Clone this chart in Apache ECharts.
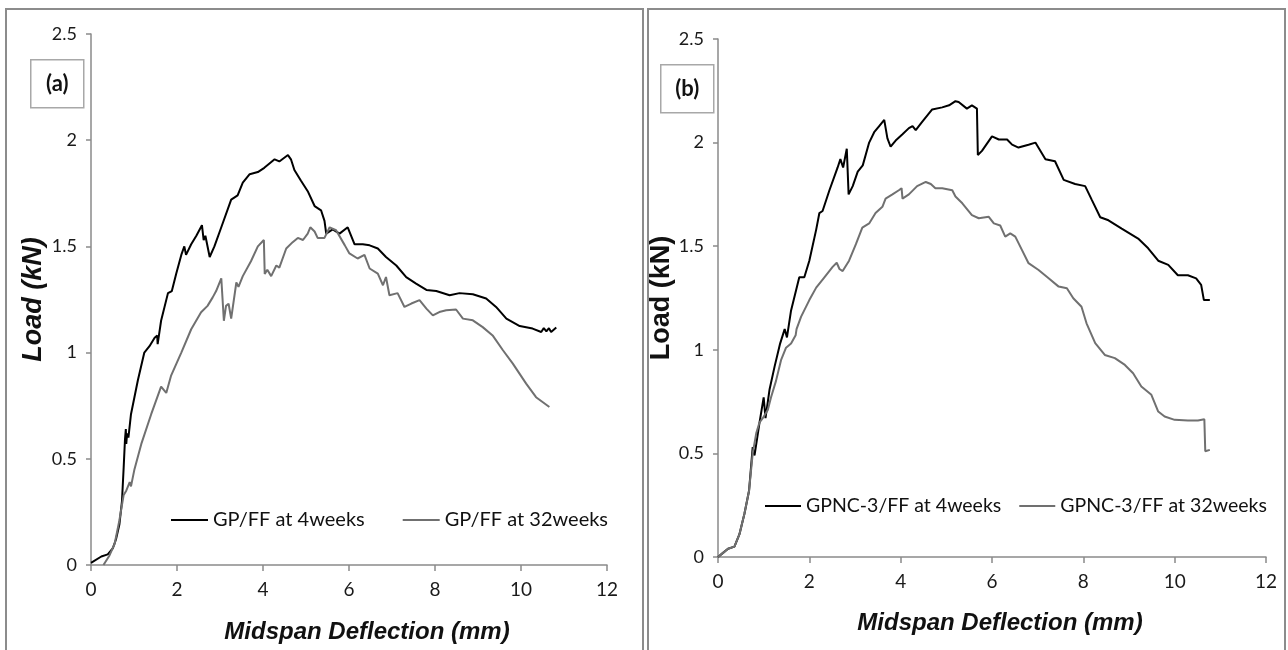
<!DOCTYPE html>
<html>
<head>
<meta charset="utf-8">
<script src="https://cdn.jsdelivr.net/npm/echarts@6/dist/echarts.min.js"></script>
<style>
html,body{margin:0;padding:0;background:#fff;}
#chart{width:1288px;height:650px;}
</style>
</head>
<body>
<div id="chart"></div>
<script>
// ---- Data (x = midspan deflection mm, y = load kN) ----
var seriesNamesA = ['GP/FF at 4weeks', 'GP/FF at 32weeks'];
var seriesNamesB = ['GPNC-3/FF at 4weeks', 'GPNC-3/FF at 32weeks'];
var xTicks = [0, 2, 4, 6, 8, 10, 12];
var yTicks = [0, 0.5, 1, 1.5, 2, 2.5];
var panelLabels = ['(a)', '(b)'];
var xTitle = 'Midspan Deflection (mm)';
var yTitle = 'Load (kN)';

var gp4 = [[0,0.01],[0.24,0.04],[0.39,0.05],[0.51,0.08],[0.58,0.12],[0.66,0.19],[0.72,0.30],[0.76,0.46],[0.79,0.59],[0.81,0.64],[0.82,0.57],[0.84,0.62],[0.87,0.60],[0.93,0.71],[1.09,0.87],[1.24,1.00],[1.36,1.03],[1.48,1.07],[1.54,1.08],[1.55,1.04],[1.63,1.15],[1.79,1.28],[1.88,1.29],[1.98,1.37],[2.10,1.46],[2.17,1.50],[2.21,1.46],[2.33,1.51],[2.45,1.55],[2.58,1.60],[2.62,1.53],[2.66,1.55],[2.76,1.45],[2.87,1.50],[3.03,1.59],[3.26,1.72],[3.41,1.74],[3.53,1.80],[3.69,1.84],[3.88,1.85],[4.03,1.87],[4.27,1.91],[4.38,1.90],[4.58,1.93],[4.65,1.91],[4.73,1.86],[4.88,1.81],[5.04,1.76],[5.20,1.69],[5.35,1.67],[5.43,1.62],[5.47,1.56],[5.62,1.58],[5.78,1.56],[5.97,1.59],[6.13,1.51],[6.32,1.51],[6.48,1.505],[6.67,1.49],[6.86,1.45],[7.10,1.41],[7.33,1.355],[7.56,1.325],[7.80,1.295],[8.03,1.29],[8.34,1.27],[8.57,1.28],[8.88,1.275],[9.19,1.255],[9.42,1.215],[9.66,1.16],[9.97,1.125],[10.27,1.113],[10.47,1.097],[10.53,1.115],[10.59,1.10],[10.65,1.115],[10.70,1.097],[10.82,1.118]];

var gp32 = [[0.29,0],[0.43,0.045],[0.55,0.10],[0.66,0.21],[0.76,0.33],[0.82,0.35],[0.90,0.39],[0.93,0.37],[1.01,0.45],[1.17,0.57],[1.40,0.71],[1.63,0.84],[1.75,0.81],[1.86,0.89],[2.10,1.00],[2.33,1.11],[2.56,1.19],[2.71,1.22],[2.83,1.26],[2.91,1.29],[3.03,1.35],[3.09,1.15],[3.14,1.22],[3.20,1.23],[3.26,1.16],[3.38,1.33],[3.43,1.31],[3.53,1.36],[3.72,1.43],[3.88,1.50],[4.02,1.53],[4.04,1.37],[4.10,1.39],[4.19,1.36],[4.31,1.41],[4.38,1.40],[4.54,1.49],[4.69,1.52],[4.81,1.54],[4.93,1.53],[5.04,1.56],[5.10,1.59],[5.20,1.57],[5.27,1.54],[5.43,1.54],[5.55,1.59],[5.70,1.576],[5.90,1.506],[6.01,1.467],[6.20,1.443],[6.36,1.46],[6.48,1.396],[6.67,1.372],[6.79,1.317],[6.86,1.356],[6.94,1.27],[7.13,1.28],[7.29,1.215],[7.45,1.231],[7.64,1.247],[7.80,1.207],[7.95,1.175],[8.10,1.191],[8.26,1.199],[8.49,1.203],[8.65,1.16],[8.88,1.152],[9.11,1.12],[9.34,1.081],[9.58,1.011],[9.81,0.948],[10.12,0.854],[10.35,0.79],[10.66,0.744]];

var gpnc4 = [[0,0],[0.11,0.02],[0.22,0.04],[0.36,0.05],[0.47,0.11],[0.58,0.21],[0.68,0.32],[0.76,0.53],[0.80,0.49],[0.91,0.65],[1.00,0.77],[1.04,0.67],[1.13,0.81],[1.24,0.92],[1.36,1.03],[1.46,1.10],[1.51,1.06],[1.60,1.19],[1.78,1.35],[1.89,1.35],[2.00,1.43],[2.15,1.58],[2.22,1.66],[2.29,1.67],[2.44,1.77],[2.62,1.88],[2.68,1.92],[2.74,1.88],[2.82,1.97],[2.86,1.75],[2.95,1.79],[3.06,1.86],[3.17,1.89],[3.31,2.00],[3.42,2.05],[3.53,2.08],[3.64,2.11],[3.71,2.02],[3.78,1.98],[3.89,2.01],[4.04,2.04],[4.18,2.07],[4.26,2.08],[4.33,2.06],[4.47,2.10],[4.69,2.16],[4.91,2.17],[5.06,2.18],[5.20,2.20],[5.27,2.196],[5.45,2.164],[5.56,2.18],[5.67,2.164],[5.69,1.94],[5.78,1.96],[6.00,2.03],[6.15,2.015],[6.33,2.015],[6.44,1.99],[6.58,1.976],[6.80,1.99],[6.95,2.00],[7.17,1.92],[7.38,1.91],[7.57,1.82],[7.82,1.80],[8.04,1.79],[8.18,1.726],[8.37,1.64],[8.55,1.625],[8.84,1.585],[9.20,1.537],[9.42,1.49],[9.64,1.43],[9.86,1.41],[10.07,1.36],[10.29,1.36],[10.47,1.345],[10.58,1.313],[10.64,1.24],[10.77,1.24]];

var gpnc32 = [[0,0],[0.11,0.02],[0.22,0.04],[0.36,0.05],[0.47,0.11],[0.58,0.21],[0.68,0.32],[0.76,0.50],[0.84,0.60],[0.91,0.65],[0.98,0.67],[1.09,0.71],[1.16,0.77],[1.27,0.85],[1.38,0.95],[1.49,1.01],[1.60,1.03],[1.70,1.07],[1.72,1.10],[1.82,1.16],[2.00,1.24],[2.15,1.30],[2.33,1.35],[2.51,1.40],[2.60,1.42],[2.66,1.39],[2.73,1.38],[2.87,1.43],[3.02,1.51],[3.16,1.59],[3.31,1.61],[3.45,1.66],[3.60,1.69],[3.67,1.73],[3.82,1.75],[3.96,1.77],[4.02,1.78],[4.04,1.73],[4.18,1.75],[4.36,1.79],[4.55,1.81],[4.66,1.80],[4.76,1.78],[4.91,1.78],[5.13,1.77],[5.20,1.74],[5.35,1.707],[5.56,1.65],[5.71,1.635],[5.93,1.642],[6.04,1.61],[6.18,1.60],[6.29,1.546],[6.40,1.562],[6.51,1.546],[6.66,1.48],[6.80,1.418],[7.02,1.385],[7.24,1.345],[7.46,1.305],[7.64,1.297],[7.78,1.249],[7.96,1.208],[8.07,1.128],[8.26,1.032],[8.47,0.975],[8.69,0.96],[8.91,0.927],[9.09,0.887],[9.27,0.823],[9.49,0.783],[9.64,0.702],[9.78,0.678],[10.00,0.662],[10.29,0.659],[10.51,0.659],[10.65,0.665],[10.67,0.51],[10.77,0.517]];

// ---- Chart ----
var AXIS_COLOR = '#8a8a8a';
var TICK_FONT = 'Lato, "Open Sans", sans-serif';
var TITLE_FONT = '"Liberation Sans", Arial, sans-serif';

function xAxisDef(gridIndex, gap, shift) {
  return {
    type: 'value', gridIndex: gridIndex, min: xTicks[0], max: xTicks[xTicks.length - 1], interval: 2,
    axisLine: { show: true, lineStyle: { color: AXIS_COLOR, width: 1.5 } },
    axisTick: { show: true, length: 6, lineStyle: { color: AXIS_COLOR, width: 1.5 } },
    splitLine: { show: false },
    axisLabel: { color: '#1a1a1a', fontFamily: TICK_FONT, fontSize: 19, margin: 15 },
    name: xTitle, nameLocation: 'middle', nameGap: gap,
    nameTextStyle: { fontFamily: TITLE_FONT, fontWeight: 'bold', fontStyle: 'italic', fontSize: 24, color: '#111', padding: [0, 0, 0, shift] }
  };
}
function yAxisDef(gridIndex, gap, italic) {
  return {
    type: 'value', gridIndex: gridIndex, min: yTicks[0], max: yTicks[yTicks.length - 1], interval: 0.5,
    axisLine: { show: true, lineStyle: { color: AXIS_COLOR, width: 1.5 } },
    axisTick: { show: true, length: 5, lineStyle: { color: AXIS_COLOR, width: 1.5 } },
    splitLine: { show: false },
    axisLabel: { color: '#1a1a1a', fontFamily: TICK_FONT, fontSize: 18, margin: 14 },
    name: yTitle, nameLocation: 'middle', nameGap: gap, nameRotate: 90,
    nameTextStyle: { fontFamily: TITLE_FONT, fontWeight: 'bold', fontStyle: italic ? 'italic' : 'normal', fontSize: 27, color: '#111' }
  };
}
function lineSeries(name, data, idx, color) {
  return {
    type: 'line', name: name, data: data, xAxisIndex: idx, yAxisIndex: idx,
    showSymbol: false, symbol: 'none', smooth: false, animation: false,
    lineStyle: { color: color, width: 2 }, itemStyle: { color: color }
  };
}
function labelBox(x, y, w, h, txt) {
  return {
    type: 'group', left: x, top: y,
    children: [
      { type: 'rect', shape: { x: 0, y: 0, width: w, height: h }, style: { fill: '#fff', stroke: '#a8a8a8', lineWidth: 1.5 } },
      { type: 'text', x: w / 2, y: h / 2, style: { text: txt, font: 'bold 22px ' + TICK_FONT, fill: '#111', align: 'center', verticalAlign: 'middle' } }
    ]
  };
}

var chart = echarts.init(document.getElementById('chart'), null, { renderer: 'canvas' });
chart.setOption({
  backgroundColor: '#fff',
  animation: false,
  grid: [
    { left: 91, top: 34, width: 516, height: 531 },
    { left: 718, top: 39, width: 548, height: 518 }
  ],
  xAxis: [xAxisDef(0, 55, 36), xAxisDef(1, 54, 16)],
  yAxis: [yAxisDef(0, 44, true), yAxisDef(1, 39, false)],
  legend: [
    { data: seriesNamesA, left: 166, top: 505, itemWidth: 37, itemHeight: 14, itemGap: 38, icon: 'path://M0,6H37V8H0Z',
      textStyle: { fontFamily: TICK_FONT, fontSize: 20, color: '#111' } },
    { data: seriesNamesB, left: 760, top: 491, itemWidth: 36, itemHeight: 14, itemGap: 18, icon: 'path://M0,6H36V8H0Z',
      textStyle: { fontFamily: TICK_FONT, fontSize: 19.5, color: '#111' } }
  ],
  series: [
    lineSeries(seriesNamesA[0], gp4, 0, '#000000'),
    lineSeries(seriesNamesA[1], gp32, 0, '#707070'),
    lineSeries(seriesNamesB[0], gpnc4, 1, '#000000'),
    lineSeries(seriesNamesB[1], gpnc32, 1, '#707070')
  ],
  graphic: [
    { type: 'rect', shape: { x: 6, y: 9, width: 637, height: 650 }, style: { fill: 'none', stroke: '#8c8c8c', lineWidth: 2 }, silent: true, z: -10 },
    { type: 'rect', shape: { x: 648, y: 9, width: 637, height: 650 }, style: { fill: 'none', stroke: '#8c8c8c', lineWidth: 2 }, silent: true, z: -10 },
    labelBox(30, 59, 53, 48, panelLabels[0]),
    labelBox(660, 64, 53, 48, panelLabels[1])
  ]
});
</script>
</body>
</html>
